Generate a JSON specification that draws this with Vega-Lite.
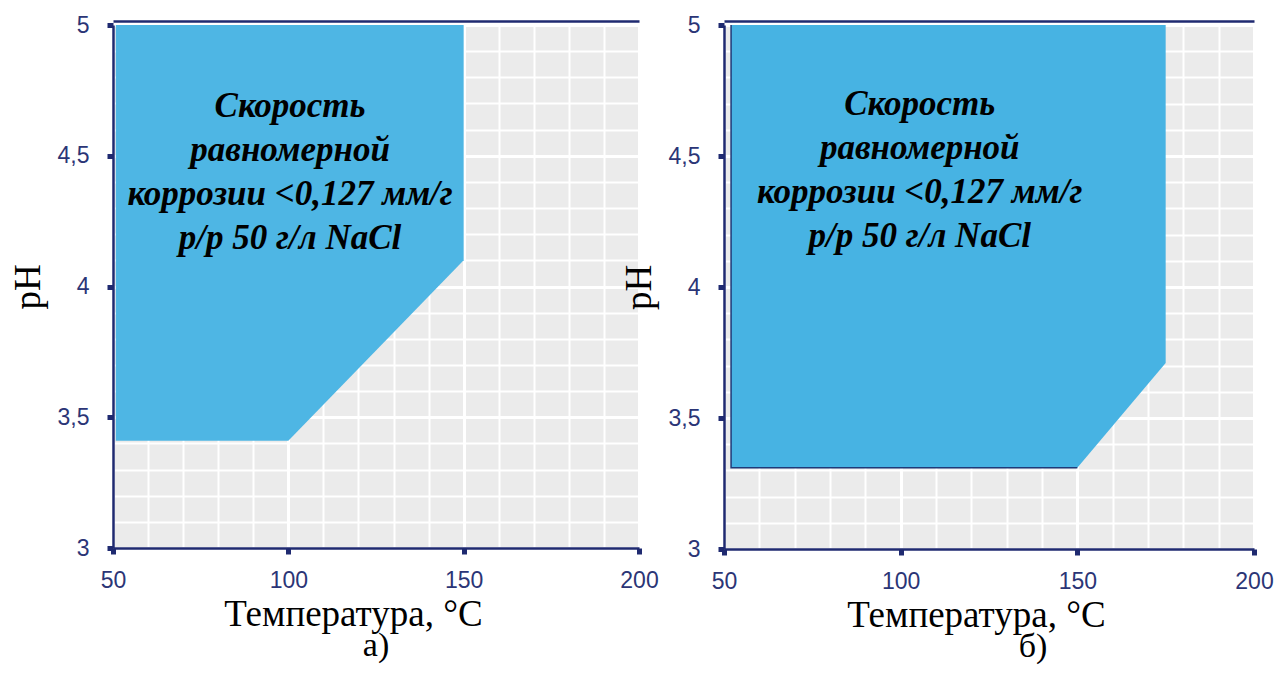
{
  "$schema": "https://vega.github.io/schema/vega-lite/v6.json",
  "background": "white",
  "padding": {"left": 9, "top": 14, "right": 5, "bottom": 2},
  "spacing": 85,
  "bounds": "flush",
  "config": {
    "view": {"fill": "#ebebeb", "stroke": null},
    "axis": {
      "labelFont": "Liberation Sans", "labelFontSize": 23, "labelColor": "#2b3576",
      "titleFont": "Liberation Serif", "titleFontWeight": "normal", "titleColor": "black", "titleFontSize": 37,
      "domainColor": "#1f2a70", "domainWidth": 2.5, "tickColor": "#1f2a70", "tickSize": 6, "tickWidth": 5,
      "gridColor": "white", "gridOpacity": 1, "labelOverlap": false, "labelFlush": false, "labelBound": false
    },
    "title": {"font": "Liberation Serif", "fontSize": 34, "fontWeight": "normal", "color": "black", "orient": "bottom", "frame": "group", "anchor": "middle", "offset": -3}
  },
  "datasets": {
    "regionA": [
      {"t": 50.8, "lo": 3.41, "ph": 5},
      {"t": 100, "lo": 3.41, "ph": 5},
      {"t": 150, "lo": 4.1, "ph": 5}
    ],
    "regionB": [
      {"t": 52, "lo": 3.31, "ph": 5},
      {"t": 150, "lo": 3.31, "ph": 5},
      {"t": 175, "lo": 3.71, "ph": 5}
    ],
    "outlineB": [
      {"i": 1, "t": 52, "ph": 5},
      {"i": 2, "t": 52, "ph": 3.31},
      {"i": 3, "t": 150, "ph": 3.31}
    ],
    "textA": [
      {"t": 100.5, "ph": 4.69, "txt": "Скорость\nравномерной\nкоррозии <0,127 мм/г\nр/р 50 г/л NaCl"}
    ],
    "textB": [
      {"t": 105.4, "ph": 4.7, "txt": "Скорость\nравномерной\nкоррозии <0,127 мм/г\nр/р 50 г/л NaCl"}
    ]
  },
  "hconcat": [
    {
      "width": 526,
      "height": 523,
      "title": {"text": "а)"},
      "resolve": {"axis": {"x": "independent", "y": "independent"}},
      "layer": [
        {
          "data": {"name": "regionA"},
          "mark": {"type": "area", "color": "#47b3e3", "opacity": 0.96},
          "encoding": {
            "x": {"field": "t", "type": "quantitative", "scale": {"domain": [50, 200], "nice": false, "zero": false},
              "axis": {"orient": "bottom", "values": [50,60,70,80,90,100,110,120,130,140,150,160,170,180,190,200],
                "title": "Температура, °С", "titlePadding": 4, "labelPadding": 15, "titleX": 240,
                "labelExpr": "datum.value % 50 === 0 ? format(datum.value, 'd') : ''",
                "tickOpacity": {"condition": {"test": "datum.value % 50 === 0", "value": 1}, "value": 0},
                "grid": true,
                "gridWidth": {"condition": {"test": "datum.value % 50 === 0", "value": 3}, "value": 2}}},
            "y": {"field": "ph", "type": "quantitative", "scale": {"domain": [3, 5], "nice": false, "zero": false},
              "axis": {"orient": "left", "values": [3,3.1,3.2,3.3,3.4,3.5,3.6,3.7,3.8,3.9,4,4.1,4.2,4.3,4.4,4.5,4.6,4.7,4.8,4.9,5],
                "title": "pH", "titleFontSize": 37, "titlePadding": 10, "labelPadding": 18,
                "labelExpr": "abs(round(datum.value*10) % 5) === 0 ? replace(format(datum.value, '.2~f'), '.', ',') : ''",
                "tickOpacity": {"condition": {"test": "abs(round(datum.value*10) % 5) === 0", "value": 1}, "value": 0},
                "grid": true,
                "gridWidth": {"condition": {"test": "abs(round(datum.value*10) % 5) === 0", "value": 3}, "value": 2}}},
            "y2": {"field": "lo"}
          }
        },
        {
          "data": {"name": "textA"},
          "mark": {"type": "text", "font": "Liberation Serif", "fontSize": 35, "fontStyle": "italic", "fontWeight": "bold", "color": "black", "lineBreak": "\n", "lineHeight": 44, "align": "center", "baseline": "middle"},
          "encoding": {
            "x": {"field": "t", "type": "quantitative", "axis": {"orient": "top", "title": null, "labels": false, "ticks": false, "grid": false, "offset": 4}},
            "y": {"field": "ph", "type": "quantitative", "axis": null},
            "text": {"field": "txt"}
          }
        }
      ]
    },
    {
      "width": 530,
      "height": 524,
      "title": {"text": "б)", "dx": 44},
      "resolve": {"axis": {"x": "independent", "y": "independent"}},
      "layer": [
        {
          "data": {"name": "regionB"},
          "mark": {"type": "area", "color": "#47b3e3", "opacity": 1},
          "encoding": {
            "x": {"field": "t", "type": "quantitative", "scale": {"domain": [50, 200], "nice": false, "zero": false},
              "axis": {"orient": "bottom", "values": [50,60,70,80,90,100,110,120,130,140,150,160,170,180,190,200],
                "title": "Температура, °С", "titlePadding": 4, "labelPadding": 15, "titleX": 252,
                "labelExpr": "datum.value % 50 === 0 ? format(datum.value, 'd') : ''",
                "tickOpacity": {"condition": {"test": "datum.value % 50 === 0", "value": 1}, "value": 0},
                "grid": true,
                "gridWidth": {"condition": {"test": "datum.value % 50 === 0", "value": 3}, "value": 2}}},
            "y": {"field": "ph", "type": "quantitative", "scale": {"domain": [3, 5], "nice": false, "zero": false},
              "axis": {"orient": "left", "values": [3,3.1,3.2,3.3,3.4,3.5,3.6,3.7,3.8,3.9,4,4.1,4.2,4.3,4.4,4.5,4.6,4.7,4.8,4.9,5],
                "title": "pH", "titleFontSize": 37, "titlePadding": 10, "labelPadding": 18,
                "labelExpr": "abs(round(datum.value*10) % 5) === 0 ? replace(format(datum.value, '.2~f'), '.', ',') : ''",
                "tickOpacity": {"condition": {"test": "abs(round(datum.value*10) % 5) === 0", "value": 1}, "value": 0},
                "grid": true,
                "gridWidth": {"condition": {"test": "abs(round(datum.value*10) % 5) === 0", "value": 3}, "value": 2}}},
            "y2": {"field": "lo"}
          }
        },
        {
          "data": {"name": "outlineB"},
          "mark": {"type": "line", "color": "#1f3a78", "strokeWidth": 1.5},
          "encoding": {
            "x": {"field": "t", "type": "quantitative", "axis": null},
            "y": {"field": "ph", "type": "quantitative", "axis": null},
            "order": {"field": "i"}
          }
        },
        {
          "data": {"name": "textB"},
          "mark": {"type": "text", "font": "Liberation Serif", "fontSize": 35, "fontStyle": "italic", "fontWeight": "bold", "color": "black", "lineBreak": "\n", "lineHeight": 44, "align": "center", "baseline": "middle"},
          "encoding": {
            "x": {"field": "t", "type": "quantitative", "axis": {"orient": "top", "title": null, "labels": false, "ticks": false, "grid": false, "offset": 4}},
            "y": {"field": "ph", "type": "quantitative", "axis": null},
            "text": {"field": "txt"}
          }
        }
      ]
    }
  ]
}
